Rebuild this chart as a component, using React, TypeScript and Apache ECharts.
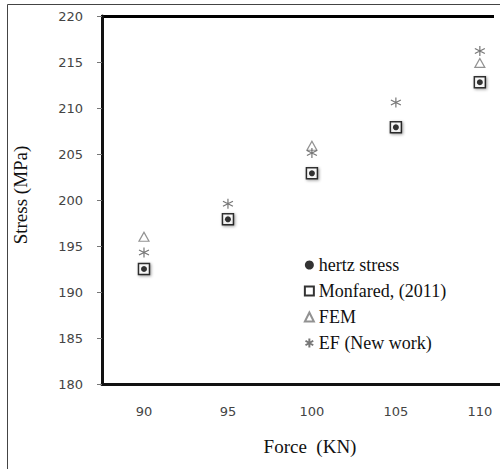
import React, { useEffect, useRef } from "react";
import * as echarts from "echarts";

const forces = [90, 95, 100, 105, 110];
const hertzStress = [192.5, 197.9, 202.9, 207.9, 212.8];
const monfared = [192.5, 197.9, 202.9, 207.9, 212.8];
const fem = [196.0, 197.9, 205.9, 207.9, 214.9];
const efNewWork = [194.3, 199.6, 205.1, 210.6, 216.2];
const xTicks = [90, 95, 100, 105, 110];
const seriesNames = ["hertz stress", "Monfared, (2011)", "FEM", "EF (New work)"];

const ASTERISK = "path://M5,0L5,10M0.7,2.5L9.3,7.5M9.3,2.5L0.7,7.5";
const SERIF = "'Liberation Serif', 'Times New Roman', serif";
const SANS = "'DejaVu Sans', Verdana, sans-serif";

const pairs = (ys: number[]) => forces.map((x, i) => [x, ys[i]]);

export default function App() {
  const ref = useRef<HTMLDivElement>(null);
  useEffect(() => {
    if (!ref.current) return;
    const chart = echarts.init(ref.current, undefined, { renderer: "svg" });
    const shadow = { shadowBlur: 3, shadowColor: "rgba(0,0,0,0.45)", shadowOffsetX: 1, shadowOffsetY: 1 };
    chart.setOption({
      animation: false,
      backgroundColor: "#fff",
      grid: { left: 102, top: 16, right: 0, bottom: 85 },
      xAxis: {
        type: "value",
        min: 87.5,
        max: 111.2,
        splitLine: { show: false },
        axisTick: { show: false },
        axisLine: { show: true, lineStyle: { color: "#111", width: 3 } },
        axisLabel: {
          customValues: xTicks,
          color: "#444",
          fontFamily: SANS,
          fontSize: 13,
          margin: 21,
        },
      },
      yAxis: {
        type: "value",
        min: 180,
        max: 220,
        interval: 5,
        splitLine: { show: false },
        axisLine: { show: true, lineStyle: { color: "#111", width: 3 } },
        axisTick: { show: true, length: 5, lineStyle: { color: "#777", width: 1 } },
        axisLabel: { color: "#444", fontFamily: SANS, fontSize: 13, margin: 19 },
        name: "Stress (MPa)",
        nameLocation: "middle",
        nameGap: 72,
        nameTextStyle: { fontFamily: SERIF, fontSize: 19, color: "#111", padding: [0, 0, 0, 10] },
      },
      legend: {
        orient: "vertical",
        left: 298,
        top: 251,
        itemWidth: 9,
        itemHeight: 9,
        itemGap: 8,
        data: seriesNames,
        textStyle: { fontFamily: SERIF, fontSize: 18, color: "#111" },
      },
      graphic: [
        {
          type: "rect",
          shape: { x: 7.5, y: 4.5, width: 500, height: 470 },
          style: { fill: "none", stroke: "#444", lineWidth: 1 },
          silent: true,
        },
        {
          type: "line",
          shape: { x1: 101, y1: 16.5, x2: 494, y2: 16.5 },
          style: { stroke: "#000", lineWidth: 3 },
          silent: true,
        },
        {
          type: "text",
          x: 310,
          y: 446,
          style: {
            text: "Force  (KN)",
            fontFamily: SERIF,
            fontSize: 19,
            fill: "#111",
            align: "center",
            verticalAlign: "middle",
          },
          silent: true,
        },
      ],
      series: [
        {
          name: seriesNames[0],
          type: "scatter",
          z: 4,
          symbol: "circle",
          symbolSize: 6,
          itemStyle: { color: "#000" },
          data: pairs(hertzStress),
        },
        {
          name: seriesNames[1],
          type: "scatter",
          z: 3,
          symbol: "rect",
          symbolSize: 11,
          itemStyle: { color: "#fff", borderColor: "#000", borderWidth: 1.5, ...shadow },
          data: pairs(monfared),
        },
        {
          name: seriesNames[2],
          type: "scatter",
          z: 2,
          symbol: "triangle",
          symbolSize: [10, 9],
          itemStyle: { color: "rgba(255,255,255,0)", borderColor: "#777", borderWidth: 1.2 },
          data: pairs(fem),
        },
        {
          name: seriesNames[3],
          type: "scatter",
          z: 2,
          symbol: ASTERISK,
          symbolSize: 10,
          itemStyle: { color: "none", borderColor: "#555", borderWidth: 1.2 },
          data: pairs(efNewWork),
        },
      ],
    });
    return () => chart.dispose();
  }, []);
  return (
    <div
      ref={ref}
      style={{ position: "absolute", left: 0, top: 0, width: 500, height: 469 }}
    />
  );
}
